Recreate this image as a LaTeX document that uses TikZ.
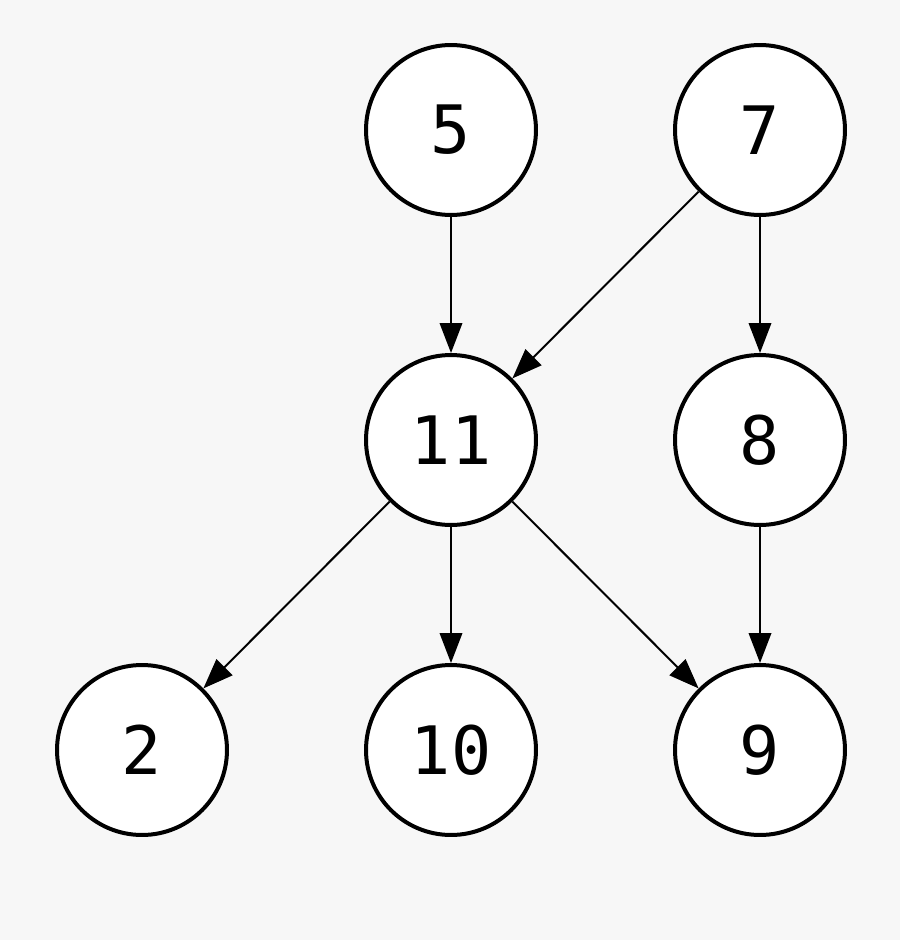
\documentclass[tikz,border=0pt]{standalone}
\usepackage{fontspec}
\setmonofont{DejaVu Sans Mono}
\usetikzlibrary{arrows.meta}
\begin{document}
\begin{tikzpicture}[x=0.02cm,y=-0.02cm,
  v/.style={circle,draw=black,fill=white,line width=0.08cm,minimum size=3.4cm,inner sep=0pt,font=\ttfamily\fontsize{38}{40}\selectfont},
  e/.style={line width=0.04cm,-{Triangle[length=0.6cm,width=0.45cm]}}]
\fill[black!3] (0,0) rectangle (900,940);
\useasboundingbox (0,0) rectangle (900,940);
\node[v] (n5) at (451,130) {5};
\node[v] (n7) at (760,130) {7};
\node[v] (n11) at (451,440) {11};
\node[v] (n8) at (760,440) {8};
\node[v] (n2) at (142,750) {2};
\node[v] (n10) at (451,750) {10};
\node[v] (n9) at (760,750) {9};
\draw[e] (n5) -- (n11);
\draw[e] (n7) -- (n11);
\draw[e] (n7) -- (n8);
\draw[e] (n11) -- (n2);
\draw[e] (n11) -- (n10);
\draw[e] (n11) -- (n9);
\draw[e] (n8) -- (n9);
\end{tikzpicture}
\end{document}
